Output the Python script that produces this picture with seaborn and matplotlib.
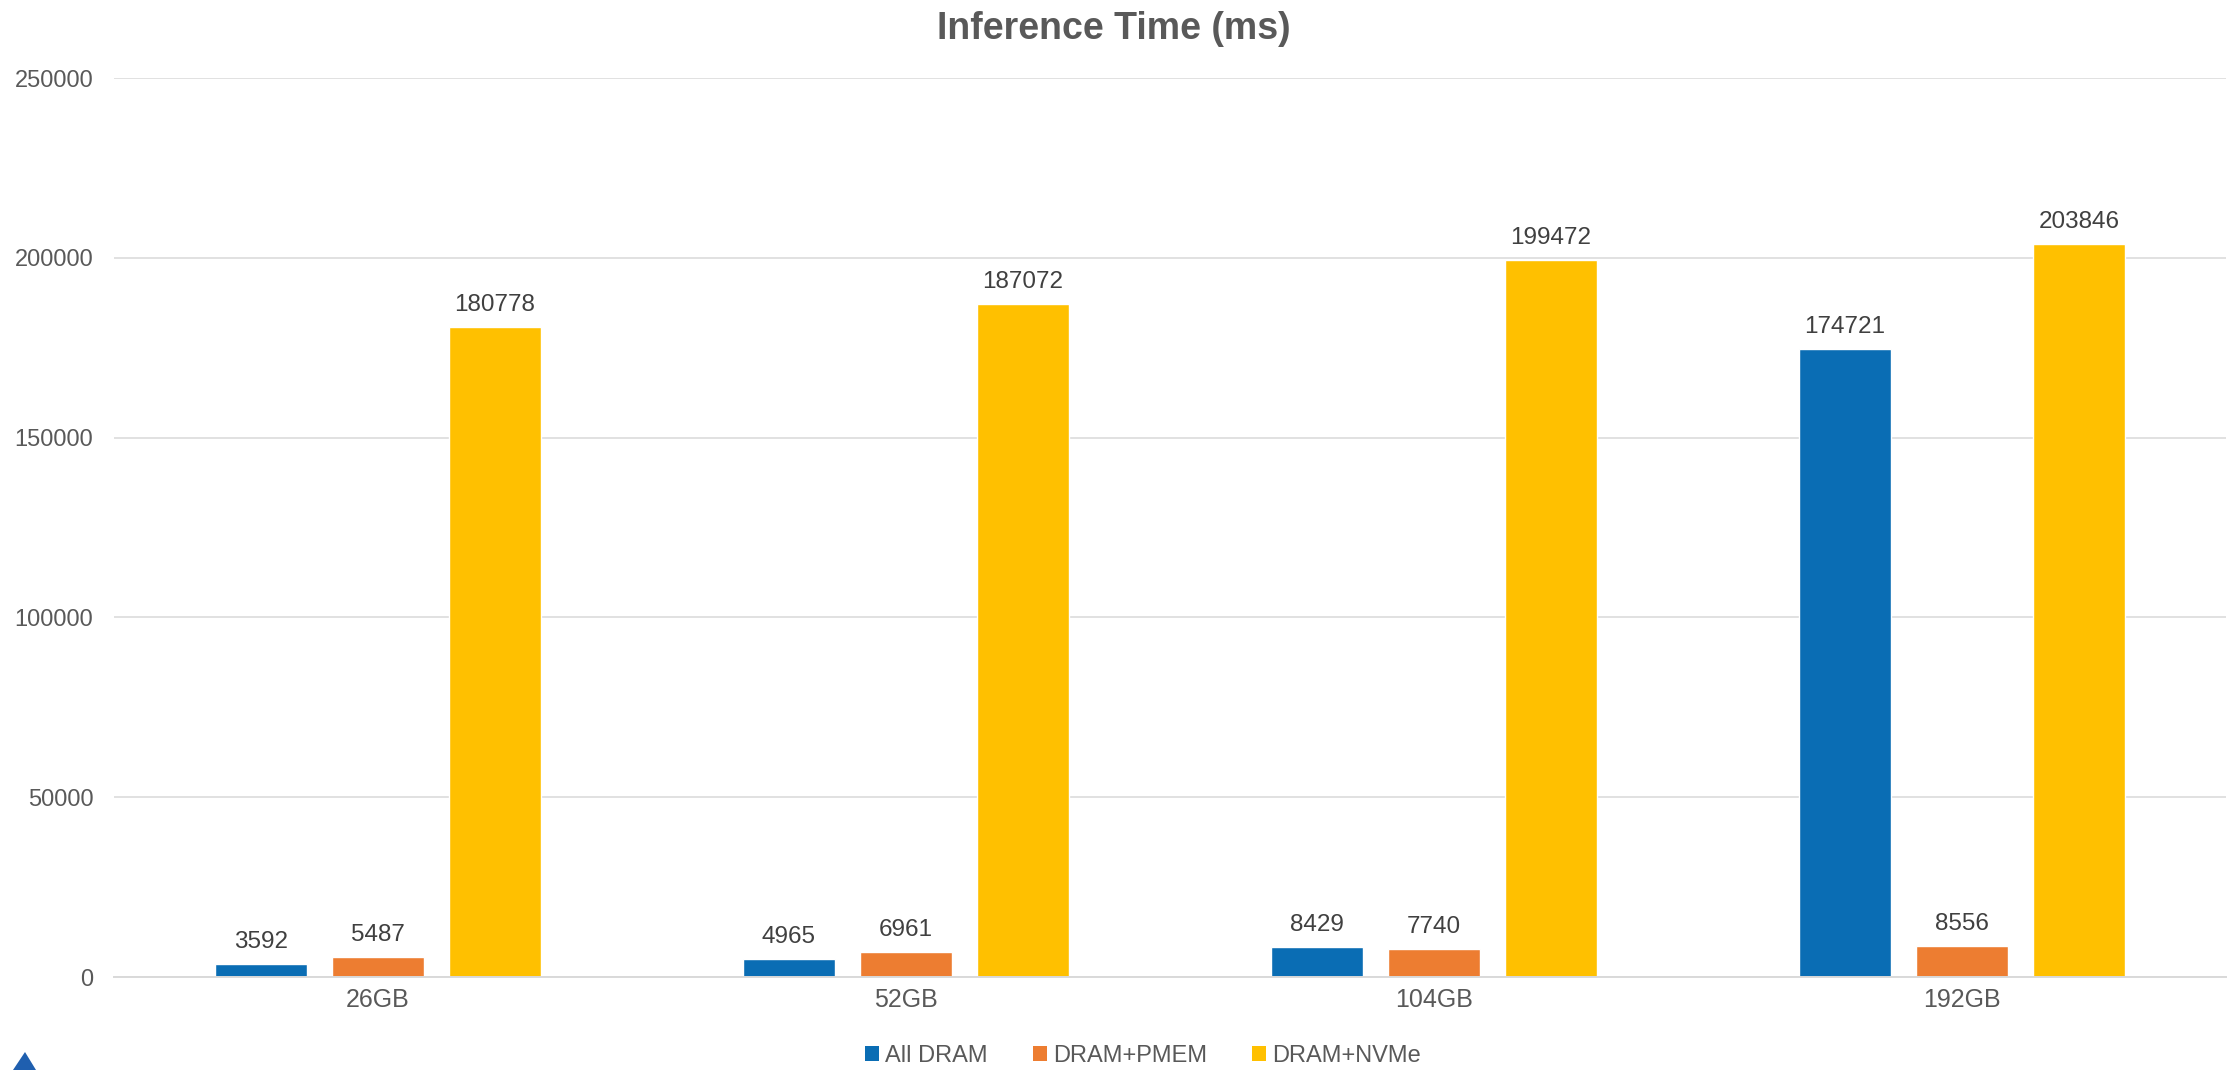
import matplotlib
matplotlib.use("Agg")
import matplotlib.pyplot as plt
from matplotlib.patches import Patch, Polygon
import seaborn as sns
import pandas as pd

categories = ["26GB", "52GB", "104GB", "192GB"]
series_names = ["All DRAM", "DRAM+PMEM", "DRAM+NVMe"]
all_dram = [3592, 4965, 8429, 174721]
dram_pmem = [5487, 6961, 7740, 8556]
dram_nvme = [180778, 187072, 199472, 203846]
y_ticks = [0, 50000, 100000, 150000, 200000, 250000]
colors = ["#0A6DB4", "#ED7D31", "#FFC000"]

rows = []
for name, vals in zip(series_names, [all_dram, dram_pmem, dram_nvme]):
    for cat, v in zip(categories, vals):
        rows.append({"size": cat, "time": v, "config": name})
df = pd.DataFrame(rows)

sns.set_theme(style="white")
plt.rcParams["font.family"] = ["Liberation Sans", "DejaVu Sans"]

fig = plt.figure(figsize=(22.28, 10.70), dpi=100)
ax = fig.add_axes([0.0512, 0.0869, 0.9478, 0.8401])

sns.barplot(data=df, x="size", y="time", hue="config", order=categories,
            hue_order=series_names, palette=colors, width=0.665, gap=0.215,
            errorbar=None, saturation=1, ax=ax, legend=False)

for cont in ax.containers:
    ax.bar_label(cont, fmt="%d", padding=8, fontsize=17.5, color="#404040")

ax.set_ylim(0, 250000)
ax.set_xlim(-0.5, 3.5)
ax.set_yticks(y_ticks)
ax.set_yticklabels([str(t) for t in y_ticks])
ax.yaxis.grid(True, color="#D9D9D9", linewidth=1.1)
ax.set_axisbelow(True)
for s in ["top", "right", "left"]:
    ax.spines[s].set_visible(False)
ax.spines["bottom"].set_color("#D9D9D9")
ax.spines["bottom"].set_linewidth(1.4)
ax.tick_params(axis="y", length=0, pad=15, labelsize=17, labelcolor="#595959")
ax.tick_params(axis="x", length=0, pad=8, labelsize=18, labelcolor="#595959")
ax.set_xlabel("")
ax.set_ylabel("")

fig.text(0.5, 0.973, "Inference Time (ms)", ha="center", va="center",
         fontsize=27, fontweight="bold", color="#595959")

handles = [Patch(facecolor=c, edgecolor="none") for c in colors]
fig.legend(handles, series_names, loc="center", bbox_to_anchor=(0.513, 0.0135),
           ncol=3, frameon=False, fontsize=17, labelcolor="#595959",
           handlelength=0.6, handleheight=0.6, handletextpad=0.25,
           columnspacing=1.9, borderpad=0)

# small corner emblem
fig.patches.append(Polygon([(13 / 2228, 0.0), (36 / 2228, 0.0), (25 / 2228, 18 / 1070)],
                           closed=True, transform=fig.transFigure,
                           facecolor="#1F5FAF", edgecolor="none"))

fig.savefig("out.png", dpi=100, facecolor="white")
